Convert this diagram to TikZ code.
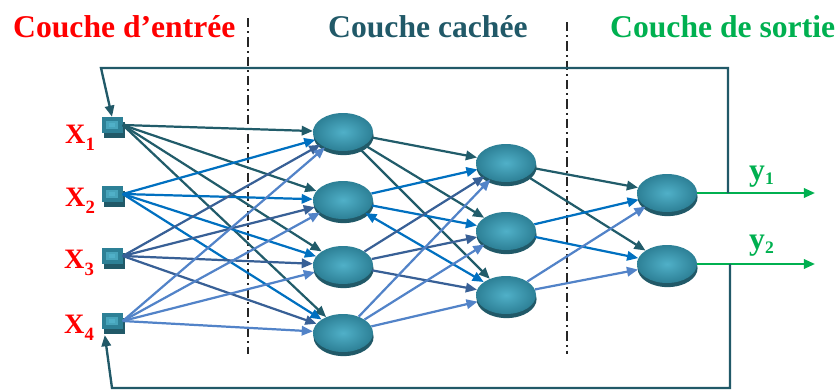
\documentclass[tikz,border=0pt]{standalone}
\usepackage{fontspec}
\setmainfont{Liberation Serif}
\usetikzlibrary{arrows.meta,shapes,shadows}
\definecolor{tealD}{RGB}{33,89,104}
\definecolor{tealM}{RGB}{45,128,150}
\definecolor{tealL}{RGB}{80,176,200}
\definecolor{ligneA}{RGB}{33,92,106}
\definecolor{ligneB}{RGB}{0,112,192}
\definecolor{ligneC}{RGB}{56,96,150}
\definecolor{ligneD}{RGB}{82,131,200}
\definecolor{vert}{RGB}{0,176,80}
\tikzset{
neurone/.style={ellipse,minimum width=1.8cm,minimum height=1.14cm,inner sep=0pt,
  inner color=tealL,outer color=tealM,
  drop shadow={shadow xshift=0.5pt,shadow yshift=-3.5pt,fill=tealD,opacity=1}},
entree/.style={rectangle,minimum width=0.63cm,minimum height=0.48cm,inner sep=0pt,fill=tealM,
  path picture={
    \fill[tealL!75!tealM]([xshift=-4.7pt,yshift=-3.4pt]path picture bounding box.center)
      rectangle([xshift=4.7pt,yshift=3.4pt]path picture bounding box.center);
    \fill[tealL]([xshift=-2.2pt,yshift=-1.7pt]path picture bounding box.center)
      rectangle([xshift=2.2pt,yshift=1.7pt]path picture bounding box.center);},
  drop shadow={shadow xshift=2.5pt,shadow yshift=-4pt,fill=tealD,opacity=1}},
titre/.style={anchor=base west,inner sep=0pt,font=\fontsize{27}{30}\selectfont\bfseries},
etiq/.style={anchor=base west,inner sep=0pt,font=\fontsize{24}{26}\selectfont\bfseries,text=red},
sortie/.style={anchor=base west,inner sep=0pt,font=\fontsize{27}{29}\selectfont\bfseries,text=vert},
sep/.style={line width=1.7pt,color=black!85,dash pattern=on 8pt off 3.5pt on 1.5pt off 3.5pt},
fA/.style={->,line width=1.9pt,ligneA},
fB/.style={->,line width=1.9pt,ligneB},
fC/.style={->,line width=1.9pt,ligneC},
fD/.style={->,line width=1.9pt,ligneD},
retour/.style={->,line width=2pt,tealD},
}
\begin{document}
\begin{tikzpicture}[x=0.03cm,y=-0.03cm,>={Triangle[length=9.5pt,width=8pt]}]
\useasboundingbox(0,0)rectangle(836,390);
% titres
\node[titre,text=red](tentree)at(13,37){Couche d’entrée};
\node[titre,text=tealD](tcachee)at(328,37){Couche cachée};
\node[titre,text=vert](tsortie)at(610,37){Couche de sortie};
\draw[sep](248,18)--(248,354);
\draw[sep](567,22)--(567,354);
% entrees
\node[entree](in1)at(112,125){};
\node[entree](in2)at(112,194){};
\node[entree](in3)at(112,256){};
\node[entree](in4)at(112,321){};
\node[etiq](lx1)at(65,143){X\raisebox{-6pt}{\fontsize{16}{16}\selectfont 1}};
\node[etiq](lx2)at(65,206){X\raisebox{-6pt}{\fontsize{16}{16}\selectfont 2}};
\node[etiq](lx3)at(64,268){X\raisebox{-6pt}{\fontsize{16}{16}\selectfont 3}};
\node[etiq](lx4)at(64,333){X\raisebox{-6pt}{\fontsize{16}{16}\selectfont 4}};
% couche cachee
\node[neurone](h11)at(343,132){};
\node[neurone](h12)at(343,200){};
\node[neurone](h13)at(343,265){};
\node[neurone](h14)at(343,333){};
\node[neurone](h21)at(506,163){};
\node[neurone](h22)at(506,231){};
\node[neurone](h23)at(506,295){};
% sortie
\node[neurone](o1)at(667,193){};
\node[neurone](o2)at(667,264){};
% entrees -> cachee
\draw[fA](in1.east)--(h11);
\draw[fA](in1.east)--(h12);
\draw[fA](in1.east)--(h13);
\draw[fA](in1.east)--(h14);
\draw[fB](in2.east)--(h11);
\draw[fB](in2.east)--(h12);
\draw[fB](in2.east)--(h13);
\draw[fB](in2.east)--(h14);
\draw[fC](in3.east)--(h11);
\draw[fC](in3.east)--(h12);
\draw[fC](in3.east)--(h13);
\draw[fC](in3.east)--(h14);
\draw[fD](in4.east)--(h11);
\draw[fD](in4.east)--(h12);
\draw[fD](in4.east)--(h13);
\draw[fD](in4.east)--(h14);
% cachee -> cachee
\draw[fA](h11)--(h21);
\draw[fA](h11)--(h22);
\draw[fA](h11)--(h23);
\draw[fB](h12)--(h21);
\draw[fB](h12)--(h22);
\draw[fB,<->](h12)--(h23);
\draw[fC](h13)--(h21);
\draw[fC](h13)--(h22);
\draw[fC](h13)--(h23);
\draw[fD](h14)--(h21);
\draw[fD](h14)--(h22);
\draw[fD](h14)--(h23);
% cachee -> sortie
\draw[fA](h21)--(o1);
\draw[fA](h21)--(o2);
\draw[fB](h22)--(o1);
\draw[fB](h22)--(o2);
\draw[fD](h23)--(o1);
\draw[fD](h23)--(o2);
% sorties
\coordinate(y1fin)at(815,193);
\coordinate(y2fin)at(815,264);
\draw[->,line width=2pt,vert](o1.east)--(y1fin);
\draw[->,line width=2pt,vert](o2.east)--(y2fin);
\node[sortie](ly1)at(749,180){y\raisebox{-4pt}{\fontsize{15}{15}\selectfont 1}};
\node[sortie](ly2)at(749,249){y\raisebox{-4pt}{\fontsize{15}{15}\selectfont 2}};
% retours
\coordinate(rA)at(728,193);
\coordinate(rB)at(728,68);
\coordinate(rC)at(101,68);
\draw[retour](rA)--(rB)--(rC)--(in1.north);
\coordinate(rD)at(730,264);
\coordinate(rE)at(730,388);
\coordinate(rF)at(112,388);
\draw[retour](rD)--(rE)--(rF)--([xshift=3pt,yshift=-5pt]in4.south west);
\end{tikzpicture}
\end{document}
